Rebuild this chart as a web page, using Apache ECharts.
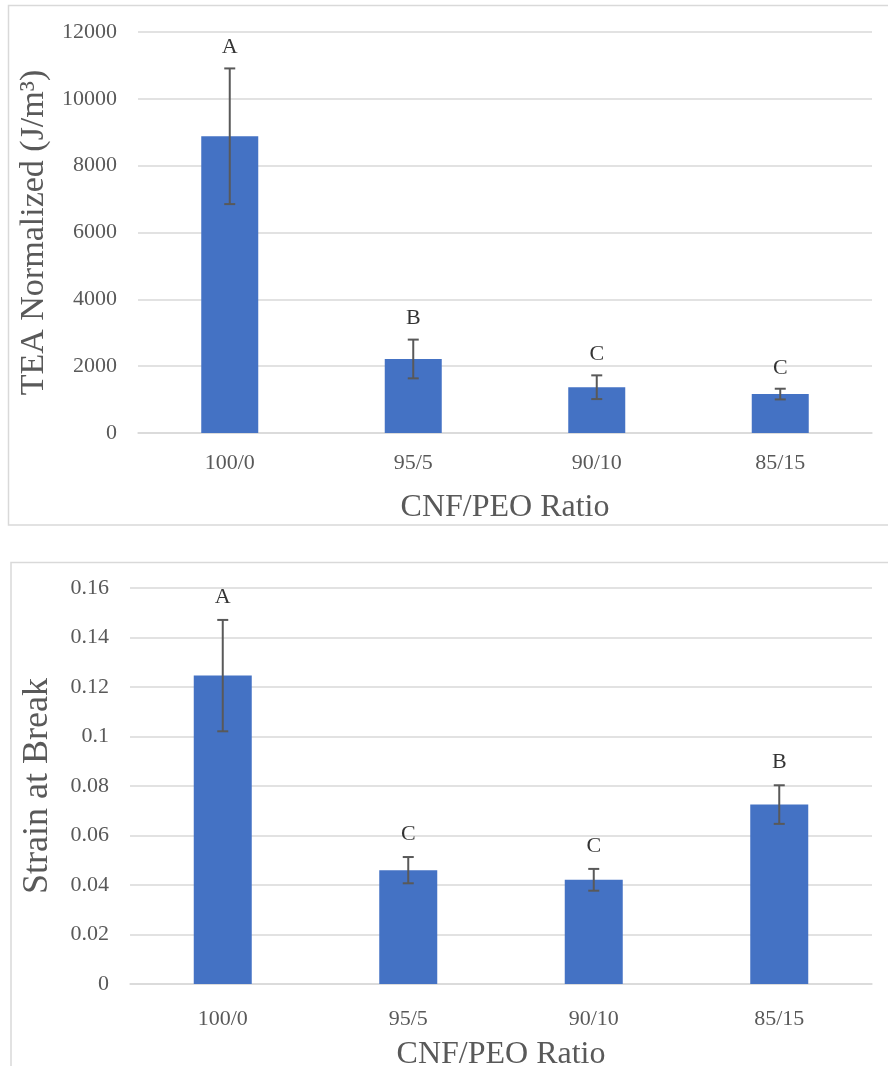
<!DOCTYPE html>
<html>
<head>
<meta charset="utf-8">
<script src="https://cdn.jsdelivr.net/npm/echarts@6/dist/echarts.min.js"></script>
<style>
html,body{margin:0;padding:0;background:#fff;}
#c{width:888px;height:1066px;}
</style>
</head>
<body>
<div id="c"></div>
<script>
// ---- data ----
const categories = ['100/0', '95/5', '90/10', '85/15'];
const teaMean = [8880, 2215, 1370, 1165];
const teaSD = [2030, 580, 355, 160];
const teaLetters = ['A', 'B', 'C', 'C'];
const teaTicks = [0, 2000, 4000, 6000, 8000, 10000, 12000];

const strainMean = [0.1246, 0.0460, 0.0421, 0.0725];
const strainSD = [0.0225, 0.0053, 0.0044, 0.0078];
const strainLetters = ['A', 'C', 'C', 'B'];
const strainTicks = [0, 0.02, 0.04, 0.06, 0.08, 0.1, 0.12, 0.14, 0.16];

// ---- styles ----
const FONT = 'Liberation Serif';
const GRAY = '#595959';
const GRID = '#d9d9d9';
const BAR = '#4472C4';

function errData(mean, sd) {
  return mean.map((m, i) => [i, m - sd[i], m + sd[i]]);
}
function letterData(mean, sd, letters) {
  return mean.map((m, i) => ({ value: [i, m + sd[i]], letter: letters[i] }));
}
function errRender(params, api) {
  const x = api.value(0);
  const lo = api.coord([x, api.value(1)]);
  const hi = api.coord([x, api.value(2)]);
  const hw = 5.5;
  const st = { stroke: '#595959', lineWidth: 2 };
  return {
    type: 'group',
    children: [
      { type: 'line', shape: { x1: hi[0], y1: hi[1], x2: lo[0], y2: lo[1] }, style: st },
      { type: 'line', shape: { x1: hi[0] - hw, y1: hi[1], x2: hi[0] + hw, y2: hi[1] }, style: st },
      { type: 'line', shape: { x1: lo[0] - hw, y1: lo[1], x2: lo[0] + hw, y2: lo[1] }, style: st }
    ]
  };
}

function xAxisCfg(gi, labelMargin, nameGap) {
  return {
    gridIndex: gi, type: 'category', data: categories,
    axisLine: { lineStyle: { color: GRID, width: 1.5 } },
    axisTick: { show: false },
    axisLabel: { color: GRAY, fontFamily: FONT, fontSize: 22, margin: labelMargin },
    name: 'CNF/PEO Ratio', nameLocation: 'middle', nameGap: nameGap,
    nameTextStyle: { color: GRAY, fontFamily: FONT, fontSize: 32 }
  };
}
function yAxisCfg(gi, ticks, name, nameGap, nameSize, fmt) {
  return {
    gridIndex: gi, type: 'value',
    min: ticks[0], max: ticks[ticks.length - 1], interval: ticks[1] - ticks[0],
    axisLine: { show: false }, axisTick: { show: false },
    splitLine: { lineStyle: { color: GRID, width: 1.5 } },
    axisLabel: { color: GRAY, fontFamily: FONT, fontSize: 22, margin: 21, formatter: fmt },
    name: name, nameLocation: 'middle', nameGap: nameGap,
    nameTextStyle: { color: GRAY, fontFamily: FONT, fontSize: nameSize }
  };
}

const chart = echarts.init(document.getElementById('c'), null, { renderer: 'canvas' });
chart.setOption({
  backgroundColor: '#fff',
  animation: false,
  graphic: [
    { type: 'rect', shape: { x: 8.5, y: 5.5, width: 900, height: 519.5 }, style: { fill: 'none', stroke: GRID, lineWidth: 1.5 }, silent: true },
    { type: 'rect', shape: { x: 11, y: 562.5, width: 900, height: 520 }, style: { fill: 'none', stroke: GRID, lineWidth: 1.5 }, silent: true }
  ],
  grid: [
    { left: 138, right: 16, top: 32, bottom: 633, containLabel: false, outerBoundsMode: 'none' },
    { left: 130, right: 16, top: 588, bottom: 82, containLabel: false, outerBoundsMode: 'none' }
  ],
  xAxis: [
    xAxisCfg(0, 19, 59),
    xAxisCfg(1, 24, 55)
  ],
  yAxis: [
    yAxisCfg(0, teaTicks, 'TEA Normalized (J/m³)', 87, 34, v => String(v)),
    yAxisCfg(1, strainTicks, 'Strain at Break', 74, 36, v => String(+v.toFixed(2)))
  ],
  series: [
    { type: 'bar', xAxisIndex: 0, yAxisIndex: 0, data: teaMean, barWidth: 57, itemStyle: { color: BAR } },
    { type: 'custom', xAxisIndex: 0, yAxisIndex: 0, data: errData(teaMean, teaSD), renderItem: errRender, z: 5 },
    { type: 'scatter', xAxisIndex: 0, yAxisIndex: 0, symbolSize: 0, data: letterData(teaMean, teaSD, teaLetters),
      label: { show: true, position: 'top', distance: 10, color: '#000', fontFamily: FONT, fontSize: 22, formatter: p => p.data.letter } },
    { type: 'bar', xAxisIndex: 1, yAxisIndex: 1, data: strainMean, barWidth: 58, itemStyle: { color: BAR } },
    { type: 'custom', xAxisIndex: 1, yAxisIndex: 1, data: errData(strainMean, strainSD), renderItem: errRender, z: 5 },
    { type: 'scatter', xAxisIndex: 1, yAxisIndex: 1, symbolSize: 0, data: letterData(strainMean, strainSD, strainLetters),
      label: { show: true, position: 'top', distance: 12, color: '#000', fontFamily: FONT, fontSize: 22, formatter: p => p.data.letter } }
  ]
});
</script>
</body>
</html>
